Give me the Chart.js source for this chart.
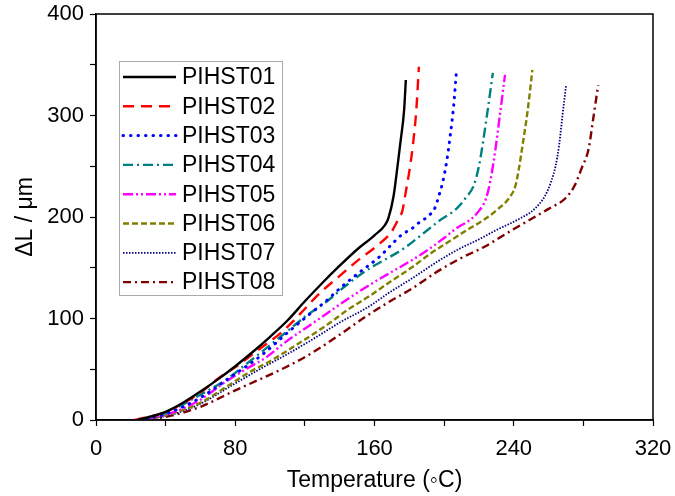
<!DOCTYPE html>
<html>
<head>
<meta charset="utf-8">
<script src="https://cdn.jsdelivr.net/npm/chart.js@4.4.1/dist/chart.umd.min.js"></script>
<style>
  html, body { margin: 0; padding: 0; background: #fff; }
  #wrap { width: 675px; height: 496px; }
</style>
</head>
<body>
<div id="wrap"><canvas id="dilato" width="675" height="496"></canvas></div>
<script>
// temperature (°C) and elongation ΔL (µm)
const names = ["PIHST01", "PIHST02", "PIHST03", "PIHST04", "PIHST05", "PIHST06", "PIHST07", "PIHST08"];

const temp01 = [24, 40, 50, 60, 70, 80, 90, 100, 110, 120, 130, 140, 150, 160, 166, 168, 171, 173, 175, 177, 178];
const dl01   = [0, 8, 17, 28, 40, 53, 67, 82, 98, 117, 135, 152, 168, 182, 192, 199, 221, 247, 275, 305, 335];

const temp02 = [22, 40, 60, 71, 80, 94, 107, 117, 128, 140, 151, 161, 170, 174, 176, 178, 180, 182, 184, 185.5];
const dl02   = [0, 8, 27, 42, 52, 70, 87, 104, 124, 142, 158, 171, 186, 199, 206, 225, 245, 270, 305, 348];

const temp03 = [25, 40, 60, 78, 96, 110, 124, 132, 141, 151, 163, 171, 176, 181, 186, 191, 195, 197, 199, 201.5, 203.5, 205.5, 207];
const dl03   = [0, 6, 22, 43, 65, 86, 106, 117, 131, 145, 161, 175, 183, 188, 195, 201, 210, 221, 233, 255, 280, 310, 342];

const temp04 = [26, 40, 60, 75, 84, 98, 111, 121, 132, 144, 155, 166, 176, 186, 197, 207, 212, 217, 220, 222, 225, 228];
const dl04   = [0, 7, 25, 40, 52, 71, 89, 103, 116, 133, 147, 158, 168, 181, 196, 208, 218, 231, 250, 270, 305, 342];

const temp05 = [28, 45, 60, 73, 86, 98, 109, 126, 136, 147, 159, 172, 182, 191, 199, 208, 214, 220, 224, 226.5, 229.5, 232, 235];
const dl05   = [0, 8, 20, 36, 50, 62, 77, 97, 109, 122, 135, 148, 158, 168, 178, 190, 196, 206, 218, 235, 267, 300, 340];

const temp06 = [28, 45, 60, 77, 88, 101, 117, 133, 145, 157, 168, 182, 193, 203, 212, 223.5, 231, 237, 241, 243, 245, 248, 250.7];
const dl06   = [0, 7, 17, 35, 47, 59, 76, 94, 109, 122, 135, 151, 165, 176, 186, 198, 208, 218, 231, 248, 270, 305, 345];

const temp07 = [28, 45, 60, 78, 94, 109, 124, 140, 157, 168, 182, 197, 208, 220, 231, 243, 252, 258, 261.5, 264, 266, 268, 270];
const dl07   = [0, 6, 16, 34, 50, 64, 79, 96, 112, 125, 140, 157, 168, 178, 188, 198, 208, 221, 235, 250, 270, 300, 329];

const temp08 = [30, 45, 60, 81, 94, 109, 124, 140, 155, 168, 182, 195, 208, 223.5, 237, 250, 260, 270, 275, 279, 283, 285.5, 288.5];
const dl08   = [0, 5, 13, 30, 40, 52, 66, 84, 102, 116, 130, 145, 158, 171, 185, 198, 208, 219, 231, 248, 267, 295, 330];

const xTicks = [0, 80, 160, 240, 320];
const yTicks = [0, 100, 200, 300, 400];

const temps = [temp01, temp02, temp03, temp04, temp05, temp06, temp07, temp08];
const dls = [dl01, dl02, dl03, dl04, dl05, dl06, dl07, dl08];

const styles = [
    { color: "#000000", dash: [], width: 2.4, cap: "butt" },
    { color: "#FF0000", dash: [11, 7], width: 2.4, cap: "butt" },
    { color: "#0000FF", dash: [0.5, 7], width: 3, cap: "round" },
    { color: "#008080", dash: [10, 4, 2, 4], width: 2.4, cap: "butt" },
    { color: "#FF00FF", dash: [10, 3, 2, 3, 2, 3], width: 2.4, cap: "butt" },
    { color: "#808000", dash: [6, 3], width: 2.4, cap: "butt" },
    { color: "#000080", dash: [1.5, 1.5], width: 1.8, cap: "butt" },
    { color: "#800000", dash: [8, 4, 2, 4], width: 2.4, cap: "butt" }
];

const datasets = names.map((name, i) => ({
    label: name,
    data: temps[i].map((t, k) => ({ x: t, y: dls[i][k] })),
    borderColor: styles[i].color,
    borderDash: styles[i].dash,
    borderWidth: styles[i].width,
    borderCapStyle: styles[i].cap,
    pointRadius: 0,
    fill: false,
    cubicInterpolationMode: "monotone"
}));

// box around the plot (top + right sides)
const frame = {
    id: "frame",
    afterDraw(chart) {
        const { ctx, chartArea: a } = chart;
        ctx.save();
        ctx.strokeStyle = "#000";
        ctx.lineWidth = 1.5;
        ctx.strokeRect(a.left, a.top, a.right - a.left, a.bottom - a.top);
        ctx.restore();
    }
};

// legend drawn inside the plot area, upper left
const insideLegend = {
    id: "insideLegend",
    afterDatasetsDraw(chart) {
        const { ctx, chartArea: a } = chart;
        const left = a.left + 23, top = a.top + 47;
        const w = 163, h = 234, step = 29.3;
        ctx.save();
        ctx.fillStyle = "#fff";
        ctx.fillRect(left, top, w, h);
        ctx.strokeStyle = "#aaaaaa";
        ctx.lineWidth = 1;
        ctx.strokeRect(left + 0.5, top + 0.5, w, h);
        chart.data.datasets.forEach((ds, i) => {
            const y = top + 16 + i * step;
            ctx.beginPath();
            ctx.strokeStyle = ds.borderColor;
            ctx.lineWidth = ds.borderWidth;
            ctx.lineCap = ds.borderCapStyle;
            ctx.setLineDash(ds.borderDash);
            ctx.moveTo(left + 4, y);
            ctx.lineTo(left + 57, y);
            ctx.stroke();
            ctx.setLineDash([]);
            ctx.fillStyle = "#000";
            ctx.font = "23px 'Liberation Sans', Arial, sans-serif";
            ctx.textBaseline = "middle";
            ctx.textAlign = "left";
            ctx.fillText(ds.label, left + 63, y + 1);
        });
        ctx.restore();
    }
};

const tickFont = { family: "'Liberation Sans', Arial, sans-serif", size: 22 };
const titleFont = { family: "'Liberation Sans', Arial, sans-serif", size: 23 };

new Chart(document.getElementById("dilato"), {
    type: "line",
    data: { datasets: datasets },
    options: {
        responsive: false,
        animation: false,
        layout: { padding: { left: 0, top: 14, right: 22, bottom: 0 } },
        plugins: {
            legend: { display: false },
            tooltip: { enabled: false }
        },
        scales: {
            x: {
                type: "linear",
                min: 0,
                max: 320,
                afterFit(scale) {
                    scale.height = 76;
                    scale.paddingLeft = 0;
                    scale.paddingRight = 0;
                },
                afterBuildTicks(scale) {
                    const t = [];
                    for (let v = 0; v <= 320; v += 40) t.push({ value: v });
                    scale.ticks = t;
                },
                ticks: {
                    autoSkip: false,
                    maxRotation: 0,
                    color: "#000",
                    font: tickFont,
                    padding: 10,
                    callback: (v) => (xTicks.includes(v) ? String(v) : "")
                },
                grid: { drawOnChartArea: false, tickLength: 6, color: "#000", tickWidth: 1.2 },
                border: { color: "#000", width: 1.5 },
                title: {
                    display: true,
                    text: "Temperature (\u25E6C)",
                    color: "#000",
                    font: titleFont,
                    padding: { top: 0, bottom: 2 }
                }
            },
            y: {
                min: 0,
                max: 400,
                afterFit(scale) {
                    scale.width = 96;
                    scale.paddingTop = 0;
                    scale.paddingBottom = 0;
                },
                afterBuildTicks(scale) {
                    const t = [];
                    for (let v = 0; v <= 400; v += 50) t.push({ value: v });
                    scale.ticks = t;
                },
                ticks: {
                    autoSkip: false,
                    color: "#000",
                    font: tickFont,
                    padding: 6,
                    callback: (v) => (yTicks.includes(v) ? String(v) : "")
                },
                grid: { drawOnChartArea: false, tickLength: 6, color: "#000", tickWidth: 1.2 },
                border: { color: "#000", width: 1.5 },
                title: {
                    display: true,
                    text: "\u0394L / \u03BCm",
                    color: "#000",
                    font: titleFont,
                    padding: { top: 12, bottom: 0 }
                }
            }
        }
    },
    plugins: [frame, insideLegend]
});
</script>
</body>
</html>
